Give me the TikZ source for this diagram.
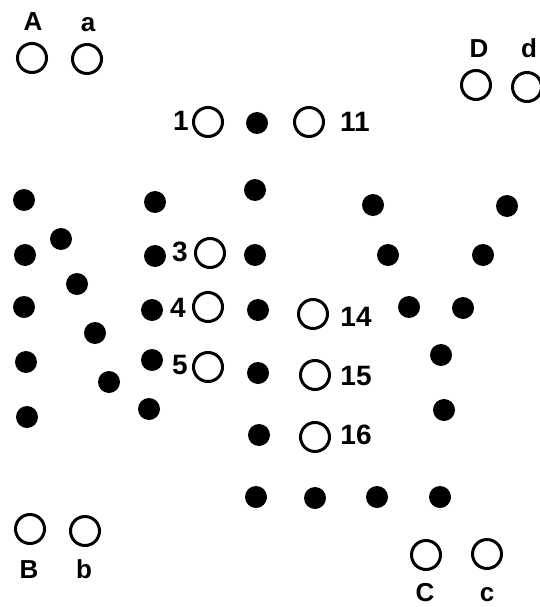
\documentclass[tikz,border=0pt]{standalone}
\usepackage{fontspec}
\setmainfont{Liberation Sans}
\begin{document}
\begin{tikzpicture}[x=1pt,y=-1pt,
  hole/.style={circle,draw=black,line width=3pt,minimum size=29pt,inner sep=0pt},
  dot/.style={circle,fill=black,minimum size=22pt,inner sep=0pt},
  letterlbl/.style={inner sep=0pt,anchor=base,font=\fontsize{26}{26}\selectfont\bfseries},
  numlbl/.style={inner sep=0pt,anchor=center,font=\fontsize{28}{28}\selectfont\bfseries}]
\useasboundingbox[fill=white] (0,0) rectangle (540,607);
% open circles
\node[hole] (hA) at (32,58) {};
\node[hole] (ha) at (87,59) {};
\node[hole] (hD) at (476,85) {};
\node[hole] (hd) at (527,87) {};
\node[hole] (h1) at (208,122) {};
\node[hole] (h11) at (309,122) {};
\node[hole] (h3) at (210,253) {};
\node[hole] (h4) at (208,307) {};
\node[hole] (h5) at (208,367) {};
\node[hole] (h14) at (313,314) {};
\node[hole] (h15) at (315,375) {};
\node[hole] (h16) at (315,437) {};
\node[hole] (hB) at (30,529) {};
\node[hole] (hb) at (85,531) {};
\node[hole] (hC) at (426,555) {};
\node[hole] (hc) at (487,554) {};
% letter labels
\node[letterlbl] (lA) at (33,31) {A};
\node[letterlbl] (la) at (88,32) {a};
\node[letterlbl] (lD) at (479,58) {D};
\node[letterlbl] (ld) at (529,58) {d};
\node[letterlbl] (lB) at (29,578) {B};
\node[letterlbl] (lb) at (84,578) {b};
\node[letterlbl] (lC) at (425,601) {C};
\node[letterlbl] (lc) at (487,601) {c};
% number labels
\node[numlbl] (n1) at (181,121) {1};
\node[numlbl] (n11) at (355,122) {11};
\node[numlbl] (n3) at (180,252) {3};
\node[numlbl] (n4) at (178,308) {4};
\node[numlbl] (n5) at (180,365) {5};
\node[numlbl] (n14) at (356,317) {14};
\node[numlbl] (n15) at (356,376) {15};
\node[numlbl] (n16) at (356,435) {16};
% filled dots
\foreach \x/\y [count=\i] in {24/200,25/255,24/307,26/362,27/417,
  61/239,77/284,95/333,109/382,
  155/202,155/256,152/310,152/360,149/409,
  257/123,255/190,255/255,258/310,258/373,259/435,256/497,
  315/498,377/497,440/497,
  373/205,507/206,388/255,483/255,409/307,463/308,441/355,444/410}
  \node[dot] (d\i) at (\x,\y) {};
\end{tikzpicture}
\end{document}
